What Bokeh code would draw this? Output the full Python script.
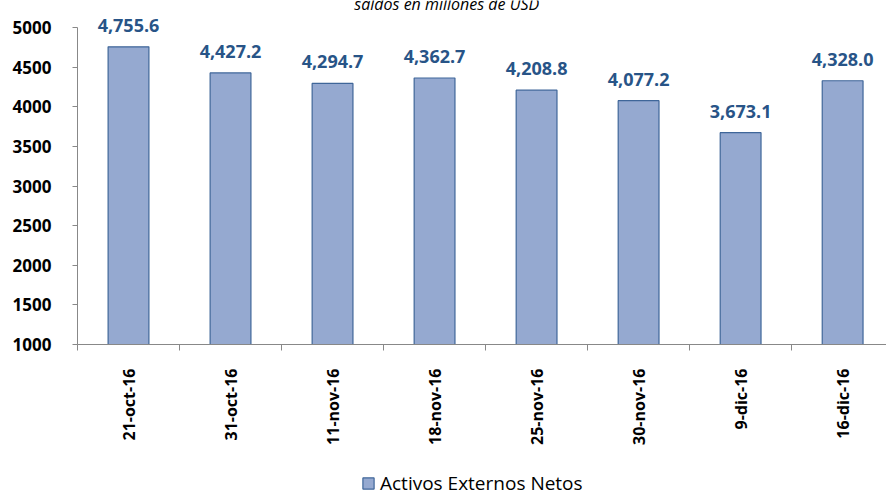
from bokeh.plotting import figure
from bokeh.models import (ColumnDataSource, Range1d, FixedTicker, LabelSet, Label,
                          Legend, LegendItem, Column)
from bokeh.core.properties import value
from bokeh.embed import file_html
from bokeh.resources import INLINE
import math

categories = ["21-oct-16", "31-oct-16", "11-nov-16", "18-nov-16",
              "25-nov-16", "30-nov-16", "9-dic-16", "16-dic-16"]
values = [4755.6, 4427.2, 4294.7, 4362.7, 4208.8, 4077.2, 3673.1, 4328.0]
y_ticks = [1000, 1500, 2000, 2500, 3000, 3500, 4000, 4500, 5000]
series_name = "Activos Externos Netos"
subtitle = "saldos en millones de USD"

centers = [i + 0.5 for i in range(len(categories))]
labels = [f"{v:,.1f}" for v in values]
src = ColumnDataSource(dict(x=centers, top=values, label=labels, cat=categories))

FONT = "Open Sans"
FILL = "#95A9D0"
EDGE = "#3F6699"

# frame top at canvas top (so labels above 5000 are not clipped), 5000 lies 27px below
y_top = 5000 + 27 * 4000 / 317

p = figure(width=886, height=460, output_backend="svg", toolbar_location=None,
           x_range=Range1d(0, 7.93), y_range=Range1d(1000, y_top),
           min_border_left=77, min_border_right=0, min_border_top=0,
           min_border_bottom=116)
p.outline_line_color = None
p.xgrid.visible = False
p.ygrid.visible = False
p.background_fill_color = "white"
p.border_fill_color = "white"

r = p.vbar(x="x", top="top", bottom=1000, width=0.4, source=src,
           fill_color=FILL, line_color=EDGE, line_width=1.2)

# y axis
p.yaxis.ticker = FixedTicker(ticks=y_ticks)
p.yaxis.bounds = (1000, 5000)
p.yaxis.axis_line_color = "#888888"
p.yaxis.major_tick_line_color = "#888888"
p.yaxis.major_tick_out = 5
p.yaxis.major_tick_in = 0
p.yaxis.minor_tick_line_color = None
p.yaxis.major_label_text_font = FONT
p.yaxis.major_label_text_font_style = "bold"
p.yaxis.major_label_text_font_size = "17px"
p.yaxis.major_label_text_color = "black"
p.yaxis.major_label_standoff = 21

# x axis
p.xaxis.ticker = FixedTicker(ticks=centers, minor_ticks=list(range(len(categories) + 1)))
p.xaxis.major_label_overrides = {c: cat for c, cat in zip(centers, categories)}
p.xaxis.axis_line_color = "#888888"
p.xaxis.major_tick_line_color = None
p.xaxis.major_tick_out = 0
p.xaxis.minor_tick_line_color = "#888888"
p.xaxis.minor_tick_out = 6
p.xaxis.minor_tick_in = 0
p.xaxis.major_label_orientation = math.pi / 2
p.xaxis.major_label_text_font = FONT
p.xaxis.major_label_text_font_style = "bold"
p.xaxis.major_label_text_font_size = "16px"
p.xaxis.major_label_text_color = "black"
p.xaxis.major_label_standoff = 18

# value labels
p.add_layout(LabelSet(x="x", y="top", text="label", source=src,
                      y_offset=15, text_align="center", text_baseline="alphabetic",
                      text_font=value(FONT), text_font_style="bold",
                      text_font_size="18px", text_color="#285487"))

# subtitle (cut at top as in reference)
p.add_layout(Label(x=3.62, y=5000, y_offset=24, text=subtitle, text_align="center",
                   text_baseline="alphabetic", text_font=FONT,
                   text_font_style="italic", text_font_size="16px",
                   text_color="black"))

# legend strip below (dummy bar kept outside the visible range, only for the swatch)
lp = figure(width=886, height=37, output_backend="svg", toolbar_location=None,
            x_range=Range1d(0, 1), y_range=Range1d(0, 1),
            x_axis_location=None, y_axis_location=None,
            min_border_left=0, min_border_right=0, min_border_top=0, min_border_bottom=0)
lp.outline_line_color = None
lp.xgrid.visible = False
lp.ygrid.visible = False
lp.background_fill_color = "white"
lr = lp.vbar(x=[-5], top=[-5], bottom=-6, width=0.4,
             fill_color=FILL, line_color=EDGE, line_width=1.2)
legend = Legend(items=[LegendItem(label=series_name, renderers=[lr])],
                location=(284, 1), orientation="horizontal",
                label_text_font=FONT, label_text_font_size="19px",
                label_text_color="black", glyph_width=14, glyph_height=14,
                label_height=20, label_standoff=5, padding=0, margin=0, spacing=0,
                border_line_color=None, background_fill_alpha=0)
lp.add_layout(legend, "center")

layout = Column(children=[p, lp], spacing=0)
open("out.html", "w").write(file_html(layout, INLINE))
